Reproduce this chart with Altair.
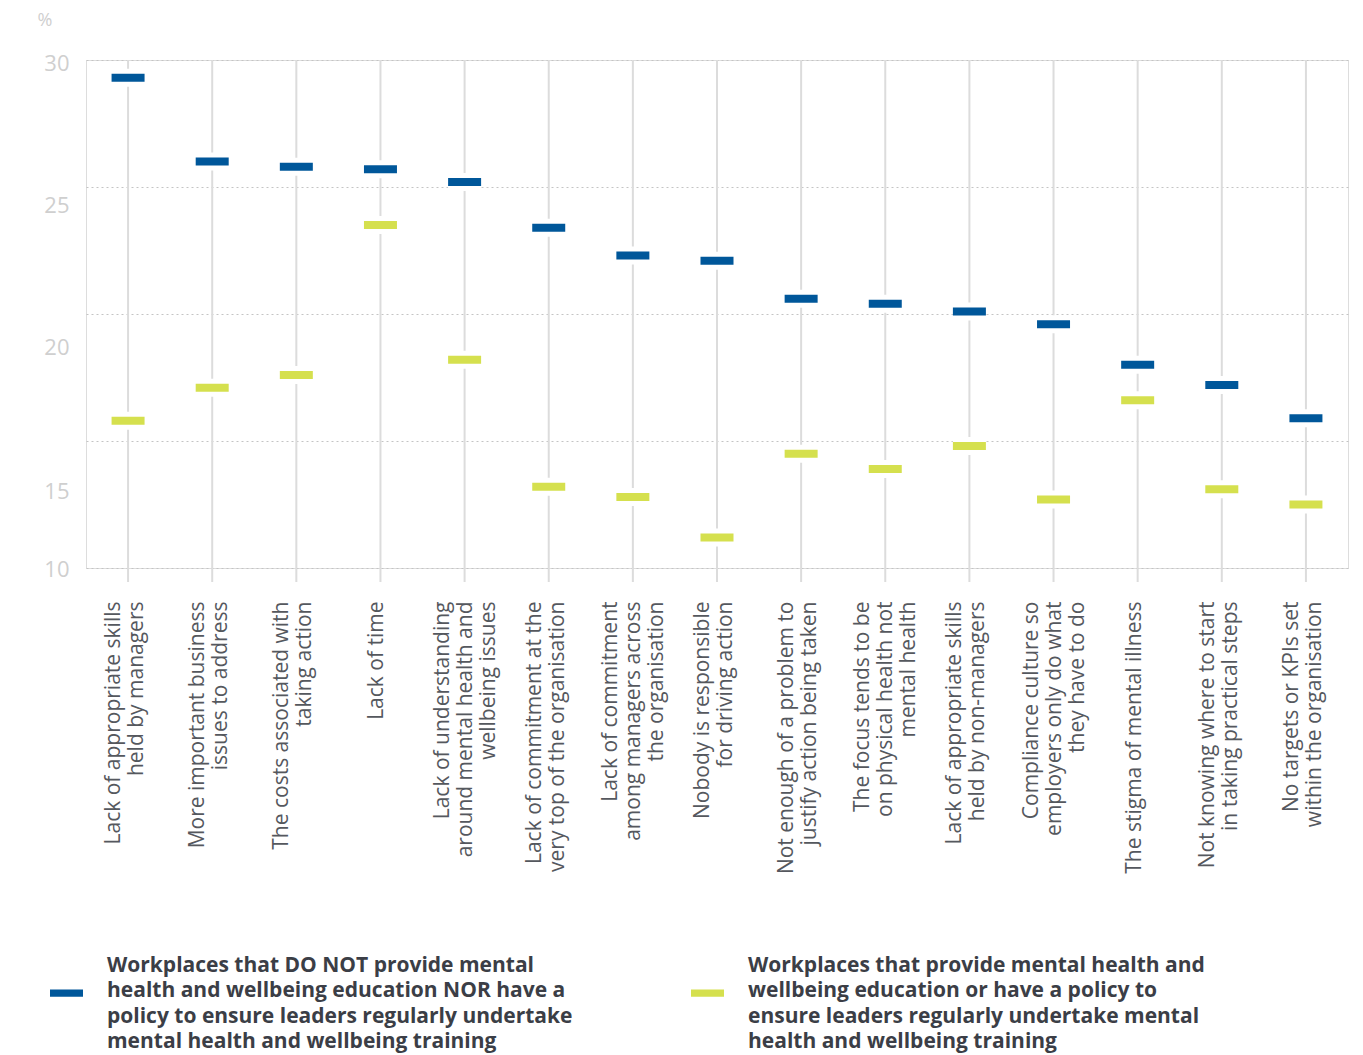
import altair as alt
import pandas as pd

categories = [
    "Lack of appropriate skills|held by managers",
    "More important business|issues to address",
    "The costs associated with|taking action",
    "Lack of time",
    "Lack of understanding|around mental health and|wellbeing issues",
    "Lack of commitment at the|very top of the organisation",
    "Lack of commitment|among managers across|the organisation",
    "Nobody is responsible|for driving action",
    "Not enough of a problem to|justify action being taken",
    "The focus tends to be|on physical health not|mental health",
    "Lack of appropriate skills|held by non-managers",
    "Compliance culture so|employers only do what|they have to do",
    "The stigma of mental illness",
    "Not knowing where to start|in taking practical steps",
    "No targets or KPIs set|within the organisation",
]
series_names = [
    "Workplaces that DO NOT provide mental|health and wellbeing education NOR have a|policy to ensure leaders regularly undertake|mental health and wellbeing training",
    "Workplaces that provide mental health and|wellbeing education or have a policy to|ensure leaders regularly undertake mental|health and wellbeing training",
]
no_provision = [29.3, 26.0, 25.8, 25.7, 25.2, 23.4, 22.3, 22.1, 20.6, 20.4, 20.1, 19.6, 18.0, 17.2, 15.9]
provision = [15.8, 17.1, 17.6, 23.5, 18.2, 13.2, 12.8, 11.2, 14.5, 13.9, 14.8, 12.7, 16.6, 13.1, 12.5]
y_ticks = [10, 15, 20, 25, 30]
colors = ["#00579a", "#d5e04e"]

rows = []
for c, a, b in zip(categories, no_provision, provision):
    rows.append({"category": c, "series": series_names[0], "value": a})
    rows.append({"category": c, "series": series_names[1], "value": b})
df = pd.DataFrame(rows)
cat_df = pd.DataFrame({"category": categories})

W, H = 1262, 508
LEGEND_LH = 25.5

x_enc = alt.X(
    "category:N",
    sort=categories,
    scale=alt.Scale(paddingInner=0, paddingOuter=0),
    axis=alt.Axis(
        title=None,
        labelAngle=-90,
        labelExpr="split(datum.label, '|')",
        labelFontSize=21,
        labelLineHeight=23,
        labelColor="#55585e",
        labelFont="Open Sans",
        labelPadding=33,
        labelLimit=400,
        labelOffset={
            "condition": [
                {"test": "length(split(datum.label, '|')) >= 3", "value": -22},
                {"test": "length(split(datum.label, '|')) == 2", "value": -14},
            ],
            "value": -3,
        },
        ticks=False,
        domain=False,
        grid=False,
    ),
)
y_scale = alt.Scale(domain=[10, 30], nice=False, zero=False)
y_axis = alt.Axis(
    values=y_ticks,
    title="%",
    titleAngle=0,
    titleAlign="left",
    titleBaseline="alphabetic",
    titleX=-49,
    titleY=-35,
    titleFontSize=18,
    titleFontWeight="normal",
    titleColor="#cfcfcf",
    titleFont="Open Sans",
    labelFontSize=22,
    labelColor="#cfcfcf",
    labelFont="Open Sans",
    labelPadding=17,
    labelOffset={
        "condition": [
            {"test": "datum.value == 25", "value": 18},
            {"test": "datum.value == 20", "value": 33},
            {"test": "datum.value == 15", "value": 50},
            {"test": "datum.value == 30", "value": 3},
        ],
        "value": 1,
    },
    ticks=False,
    domain=False,
    grid=True,
    gridColor="#c4c4c4",
    gridDash=[2, 3],
    gridWidth=1,
)

rules = alt.Chart(cat_df).mark_rule(color="#dcdcdc", strokeWidth=2).encode(
    x=x_enc,
    y=alt.value(0),
    y2=alt.value(H + 14),
)

base = alt.Chart(df).encode(
    x=x_enc,
    y=alt.Y("value:Q", scale=y_scale, axis=y_axis),
)

gaps = base.mark_tick(size=33, thickness=18, color="white", opacity=1)

# legend symbol: a flat bar, shifted down to sit beside the 2nd label line
c = (LEGEND_LH + 2) / 16.5
symbol_path = f"M-1,{c - 0.22:.3f}H1V{c + 0.22:.3f}H-1Z"

ticks = base.mark_tick(size=33, thickness=8, opacity=1).encode(
    color=alt.Color(
        "series:N",
        sort=series_names,
        scale=alt.Scale(domain=series_names, range=colors),
        legend=alt.Legend(
            title=None,
            orient="none",
            legendX=-36,
            legendY=889,
            direction="horizontal",
            columns=2,
            columnPadding=118,
            padding=0,
            labelExpr="split(datum.label, '|')",
            labelFontSize=21,
            labelFontWeight="bold",
            labelFont="Open Sans",
            labelColor="#3b3e46",
            labelLimit=0,
            labelOffset=24,
            symbolType=symbol_path,
            symbolSize=1089,
            symbolStrokeWidth=0,
            symbolOpacity=1,
        ),
    )
)

chart = (
    alt.layer(rules, gaps, ticks)
    .properties(
        width=W,
        height=H,
        autosize=alt.AutoSizeParams(type="none"),
        padding={"left": 78, "top": 52, "right": 7, "bottom": 488},
    )
    .configure_view(stroke=None)
    .configure(background="white", style={"guide-label": {"lineHeight": LEGEND_LH}})
)

chart.save("out.html", embed_options={"renderer": "svg", "actions": False})
